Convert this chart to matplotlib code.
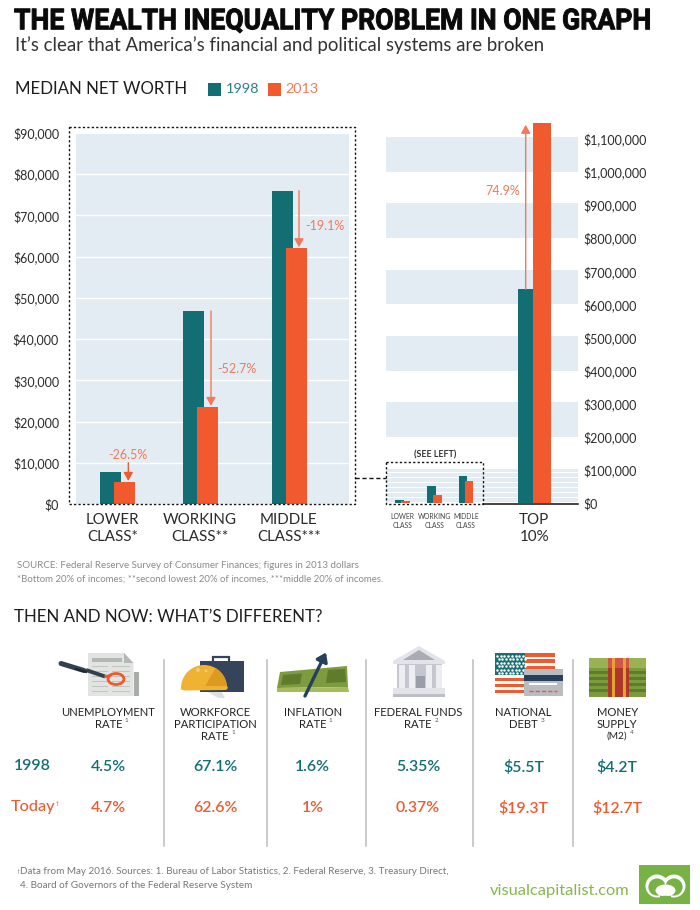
import matplotlib
matplotlib.use("Agg")
import matplotlib.pyplot as plt
from matplotlib.patches import Rectangle, Polygon, Ellipse, Wedge, Circle
from matplotlib.patheffects import AbstractPathEffect
from matplotlib.transforms import Affine2D

# ---------- data ----------
classes = ["LOWER\nCLASS*", "WORKING\nCLASS**", "MIDDLE\nCLASS***"]
worth_1998 = [7800, 46800, 76000]
worth_2013 = [5300, 23500, 62000]
changes = ["-26.5%", "-52.7%", "-19.1%"]

inset_labels = ["LOWER\nCLASS", "WORKING\nCLASS", "MIDDLE\nCLASS"]
inset_1998 = [10000, 52000, 83000]
inset_2013 = [6000, 25000, 67000]

top_label = "TOP\n10%"
top_1998 = 646000
top_2013 = 1148000
top_change = "74.9%"

left_ticks = list(range(0, 90001, 10000))
right_ticks = list(range(0, 1100001, 100000))

indicators = ["UNEMPLOYMENT\nRATE", "WORKFORCE\nPARTICIPATION\nRATE", "INFLATION\nRATE",
              "FEDERAL FUNDS\nRATE", "NATIONAL\nDEBT", "MONEY\nSUPPLY\n(M2)"]
notes = ["1", "1", "1", "2", "3", "4"]
then_vals = ["4.5%", "67.1%", "1.6%", "5.35%", "$5.5T", "$4.2T"]
now_vals = ["4.7%", "62.6%", "1%", "0.37%", "$19.3T", "$12.7T"]

# ---------- style ----------
TEAL = "#126E73"
ORANGE = "#F15A2E"
SOFT = "#F3795A"
BAND = "#E3ECF2"
INK = "#2B2B2B"
GREY = "#8A8A8A"
GREEN = "#77B244"
plt.rcParams["font.family"] = ["Lato", "DejaVu Sans"]

W, H = 700, 910
fig = plt.figure(figsize=(W / 100, H / 100), dpi=100, facecolor="white")


class Squeeze(AbstractPathEffect):
    """Condense a text horizontally, raise it and thicken its strokes a little."""

    def __init__(self, sx, sy, stroke):
        super().__init__()
        self.sx, self.sy, self.stroke = sx, sy, stroke

    def draw_path(self, renderer, gc, tpath, affine, rgbFace=None):
        gc0 = renderer.new_gc()
        gc0.copy_properties(gc)
        gc0.set_linewidth(self.stroke)
        gc0.set_foreground(rgbFace)
        renderer.draw_path(gc0, tpath, Affine2D().scale(self.sx, self.sy) + affine, rgbFace)
        gc0.restore()


def axes_px(x0, y_top, x1, y_bot):
    return fig.add_axes([x0 / W, 1 - y_bot / H, (x1 - x0) / W, (y_bot - y_top) / H])


# ---------- left chart ----------
ax = axes_px(76, 133, 349, 504)
ax.set_xlim(76, 349)
ax.set_ylim(0, 90000)
ax.set_facecolor(BAND)
for s in ax.spines.values():
    s.set_visible(False)
left_centres = [117, 200.5, 289.7]
bw = 21
off = 7
ax.bar([c - off for c in left_centres], worth_1998, bw, color=TEAL, zorder=3)
ax.bar([c + off for c in left_centres], worth_2013, bw, color=ORANGE, zorder=4)
ax.set_yticks(left_ticks, [f"${v:,}" for v in left_ticks], fontsize=9.0, color=INK)
ax.set_xticks([112.7, 200, 288.7], classes, fontsize=10.9, color=INK, linespacing=1.25)
ax.tick_params(axis="both", length=0)
ax.tick_params(axis="y", pad=12.2)
ax.tick_params(axis="x", pad=6.4)
ax.grid(axis="y", color="white", lw=1, zorder=1)
ax.set_axisbelow(True)
arrow_x = [128.3, 211, 299]
arrow_start = [10000, worth_1998[1], worth_1998[2]]
for x, s, e in zip(arrow_x, arrow_start, worth_2013):
    ax.annotate("", xy=(x, e + 300), xytext=(x, s),
                arrowprops=dict(arrowstyle="-|>,head_width=0.28,head_length=0.5",
                                color=SOFT if s > 20000 else ORANGE,
                                lw=1, shrinkA=0, shrinkB=0), zorder=6)
ax.text(128, 11900, changes[0], ha="center", va="center", color=SOFT, fontsize=9.0)
ax.text(236.5, 32700, changes[1], ha="center", va="center", color=SOFT, fontsize=9.0)
ax.text(325, 67400, changes[2], ha="center", va="center", color=SOFT, fontsize=9.0)

# ---------- right chart ----------
axr = axes_px(386, 105.6, 578, 503.3)
axr.set_xlim(386, 578)
axr.set_ylim(0, 1200000)
axr.patch.set_alpha(0)
for s in axr.spines.values():
    s.set_visible(False)
for lo in (200000, 400000, 600000, 800000, 1000000):
    axr.axhspan(lo, lo + 105000, color=BAND, lw=0, zorder=1)
for lo in range(0, 100000, 15000):
    axr.axhspan(lo + 3500, lo + 15000, color=BAND, lw=0, zorder=1)
inset_centres = [402.7, 434.5, 466]
axr.bar([c - 3 for c in inset_centres], inset_1998, 8.7, color=TEAL, zorder=3)
axr.bar([c + 3 for c in inset_centres], inset_2013, 8.7, color=ORANGE, zorder=4)
axr.bar(525.5, top_1998, 15, color=TEAL, zorder=3)
axr.bar(542.2, top_2013, 18.2, color=ORANGE, zorder=4)
axr.yaxis.tick_right()
axr.set_yticks(right_ticks, [f"${v:,}" for v in right_ticks], fontsize=9.0, color=INK)
axr.set_xticks(inset_centres + [534.3], inset_labels + [top_label])
axr.tick_params(axis="both", length=0)
axr.tick_params(axis="y", pad=3.6)
for i, lab in enumerate(axr.get_xticklabels()):
    if i < 3:
        lab.set_fontsize(4.9)
        lab.set_color("#444444")
        lab.set_linespacing(1.3)
    else:
        lab.set_fontsize(10.9)
        lab.set_color(INK)
        lab.set_linespacing(1.25)
for i, t in enumerate(axr.xaxis.get_major_ticks()):
    t.set_pad(7 if i < 3 else 7)
axr.annotate("", xy=(525.7, 1142000), xytext=(525.7, top_1998),
             arrowprops=dict(arrowstyle="-|>,head_width=0.28,head_length=0.5", color=SOFT, lw=1,
                             shrinkA=0, shrinkB=0), zorder=6)
axr.text(503, 943000, top_change, ha="center", va="center", color=SOFT, fontsize=9.0)

# ---------- overlay in pixels ----------
ov = fig.add_axes([0, 0, 1, 1], zorder=10)
ov.set_xlim(0, W)
ov.set_ylim(H, 0)
ov.axis("off")
ov.patch.set_alpha(0)


def T(x, y, s, size, color=INK, ha="left", va="center", weight="normal", **kw):
    return ov.text(x, y, s, fontsize=size, color=color, ha=ha, va=va, fontweight=weight, **kw)


def R(x0, y0, x1, y1, color, z=2, **kw):
    ov.add_patch(Rectangle((x0, y0), x1 - x0, y1 - y0, fc=color, ec="none", zorder=z, **kw))


title = T(14, 29.3, "THE WEALTH INEQUALITY PROBLEM IN ONE GRAPH", 20.2, "#0A0A0A", va="baseline", weight="bold",
          family=["Liberation Sans Narrow", "Roboto"])
title.set_path_effects([Squeeze(0.95, 1.03, 0.7)])
T(15, 45, "It\u2019s clear that America\u2019s financial and political systems are broken", 13.4, "#333333")
T(15, 89.5, "MEDIAN NET WORTH", 12.2, "#1E1E1E")
R(207.5, 83, 220.5, 96, TEAL)
T(226, 89, "1998", 10.4, "#2A8086")
R(268, 83, 281, 96, ORANGE)
T(285, 89, "2013", 10.4, SOFT)

dash = dict(color="#111111", lw=1, linestyle=(0, (1.6, 1.6)), zorder=6)
ov.plot([68.7, 355, 355, 68.7, 68.7], [126.7, 126.7, 504, 504, 126.7], **dash)
ov.plot([355, 386], [478.3, 478.3], color="#111111", lw=1, linestyle=(0, (3, 2)), zorder=6)
ov.plot([386, 483.3, 483.3, 386, 386], [462.3, 462.3, 503.5, 503.5, 462.3], **dash)
ov.plot([483.3, 578], [503.5, 503.5], color="#111111", lw=1.1, zorder=6)
T(435, 455, "(SEE LEFT)", 6.4, "#333333", ha="center", weight="bold")

T(17, 566, "SOURCE: Federal Reserve Survey of Consumer Finances; figures in 2013 dollars", 7.05, GREY)
T(17, 579, "*Bottom 20% of incomes; **second lowest 20% of incomes, ***middle 20% of incomes.", 6.9, GREY)
T(14, 617, "THEN AND NOW: WHAT\u2019S DIFFERENT?", 12.2, "#1E1E1E")

# dividers
for x in (164.3, 267.3, 366, 472.7, 573):
    ov.plot([x, x], [659.5, 846], color="#BDBDBD", lw=1.1)

# column text
centres = [108.3, 215, 312.7, 418, 523.7, 617.3]
renderer = fig.canvas.get_renderer()
for cx, name, n, a, b in zip(centres, indicators, notes, then_vals, now_vals):
    lines = name.split("\n")
    for i, l in enumerate(lines):
        size = 8.1 if l != "(M2)" else 7.2
        t = T(cx, 712 + 12 * i, l, size, "#222222", ha="center")
    right_edge = t.get_window_extent(renderer).x1
    T(right_edge + 2.5, 709 + 12 * (len(lines) - 1), n, 4.6, "#555555", ha="left")
    T(cx, 767, a, 11.4, TEAL, ha="center", weight="semibold")
    T(cx, 808.5, b, 11.4, ORANGE, ha="center", weight="semibold")
T(32, 766, "1998", 11.4, TEAL, ha="center", weight="semibold")
T(11, 807.5, "Today", 11.7, ORANGE, ha="left", weight="medium")
T(56, 803, "\u2020", 4.0, ORANGE, ha="left")

T(16.5, 871, "\u2020", 4.0, GREY, va="center")
T(20.5, 871.7, "Data from May 2016. Sources: 1. Bureau of Labor Statistics, 2. Federal Reserve, 3. Treasury Direct,", 7.15, "#777777")
T(20.5, 885, "4. Board of Governors of the Federal Reserve System", 7.15, "#777777")

# logo
T(490, 891.5, "visualcapitalist.com", 11.8, "#86B84B")
R(638.5, 864.5, 690, 904, GREEN)
for cx_ in (657, 674):
    ov.add_patch(Circle((cx_, 886), 11.5, fc="white", ec="none", zorder=3))
ov.add_patch(Polygon([(655, 875), (665.5, 878), (676, 875), (672, 884), (659, 884)], fc="white", ec="none", zorder=3))
ov.add_patch(Circle((657, 887), 8.6, fc=GREEN, ec="none", zorder=4))
ov.add_patch(Circle((674, 887), 8.6, fc=GREEN, ec="none", zorder=4))
R(660, 887, 671, 899, GREEN, z=4)
ov.add_patch(Ellipse((665.5, 890.5), 20, 12, fc="white", ec="none", zorder=5))
ov.add_patch(Ellipse((665.5, 897), 9, 2.5, fc=GREEN, ec="none", zorder=6))

# icon 1: newspaper and pen
R(134, 672, 138.5, 696, "#A9ACAB")
ov.add_patch(Polygon([(88, 653), (124, 653), (133.5, 663), (133.5, 696), (88, 696)], fc="#E2E4E2", ec="none", zorder=2))
ov.add_patch(Polygon([(124, 653), (133.5, 663), (124, 663)], fc="#B5B8B6", ec="none", zorder=3))
R(92, 658, 122, 661.5, "#B4B7B5", z=3)
for y in (666, 671, 676, 681, 686, 691):
    R(92, y, 108, y + 1.4, "#BFC6C1", z=3)
    R(112, y, 130, y + 1.4, "#BFC6C1", z=3)
ov.plot([61, 84], [663.5, 670.5], color="#33414F", lw=3.6, solid_capstyle="round", zorder=4)
ov.plot([86, 105], [670, 676.5], color="#33414F", lw=2.8, solid_capstyle="butt", zorder=4)
ov.plot([76, 86], [669, 672], color="#1F2833", lw=1.5, zorder=5)
ov.add_patch(Ellipse((116, 679), 16, 11, fc="none", ec="#EE5A2C", lw=2, zorder=4))
ov.plot([106, 110], [676.5, 675.5], color="#EE5A2C", lw=2, zorder=4)

# icon 2: hard hat and briefcase
R(200, 661, 244, 692, "#35445A")
ov.add_patch(Rectangle((213, 657), 16, 6, fc="none", ec="#35445A", lw=1.6, zorder=2))
ov.add_patch(Polygon([(208, 692), (222, 692), (225, 698), (218, 698)], fc="#DDE0E2", ec="none", zorder=2))
ov.add_patch(Wedge((204, 688), 23, 180, 360, fc="#F0B232", ec="none", zorder=3))
ov.add_patch(Wedge((204, 688), 23, 300, 360, fc="#DC9A22", ec="none", zorder=4))
ov.add_patch(Polygon([(180, 689), (186, 686), (227, 686), (228, 688), (226, 690), (184, 690.5)], fc="#F0B232", ec="none", zorder=5))
ov.add_patch(Circle((198, 670), 2, fc="#F6CE76", ec="none", zorder=5))
ov.add_patch(Circle((206, 671), 1.3, fc="#F6CE76", ec="none", zorder=5))

# icon 3: banknotes and arrow
ov.add_patch(Polygon([(280, 672), (347, 666), (348, 687), (277, 688)], fc="#7E9B3F", ec="none", zorder=2))
ov.add_patch(Polygon([(277, 688), (348, 687), (349, 692), (277, 692)], fc="#A5BB5E", ec="none", zorder=3))
ov.add_patch(Polygon([(283, 675), (302, 673.5), (300, 684), (281, 685)], fc="#5F7C2C", ec="none", zorder=3))
ov.add_patch(Polygon([(328, 670), (345, 669), (346, 682), (326, 683)], fc="#5F7C2C", ec="none", zorder=3))
ov.annotate("", xy=(326, 652.5), xytext=(305, 696),
            arrowprops=dict(arrowstyle="-|>,head_width=0.35,head_length=0.5", color="#24405C", lw=2.4,
                            shrinkA=0, shrinkB=0), zorder=5)

# icon 4: bank
ov.add_patch(Polygon([(419, 646), (445, 661), (445, 664), (393, 664), (393, 661)], fc="#E3E4EA", ec="none", zorder=2))
ov.add_patch(Polygon([(419, 650), (435, 660), (403, 660)], fc="#A9ACB5", ec="none", zorder=3))
R(397, 664, 442, 688, "#C5C7D0")
for x in (399, 409, 426, 436):
    R(x, 665, x + 5.5, 688, "#EDEEF2", z=3)
R(415.5, 676, 424.5, 688, "#9A9EA8", z=3)
R(393, 688, 445, 693.5, "#E3E4EA", z=3)
R(393, 693.5, 445, 697, "#BDBFC8", z=3)

# icon 5: flag and card
R(495, 653, 555, 694, "white")
for i in range(7):
    R(495, 653.3 + i * 6.15, 555, 653.3 + i * 6.15 + 3.2, "#F05A2E", z=3)
R(495, 653, 525, 675, "#1B6E74", z=4)
for r in range(6):
    for c in range(8):
        ov.plot(497 + c * 3.7 + (r % 2) * 1.6, 655.5 + r * 3.5, ".", color="white", ms=1.6, zorder=5)
R(524, 669, 563, 696, "#B9BCC0", z=5)
R(524, 675, 563, 680.5, "#24405C", z=6)
R(529, 683, 557, 684.8, "white", z=6)
ov.plot([529, 557], [690.5, 690.5], color="#F05A2E", lw=1, linestyle=(0, (3, 1.5)), zorder=6)

# icon 6: stack of money
R(589, 658, 646, 697, "#7C9A3E")
R(589, 658, 646, 668, "#9BB252", z=3)
for y in (671, 677, 683, 689):
    R(589, y, 646, y + 2.6, "#5E7D2C", z=3)
R(608, 658, 629, 697, "#AE372C", z=4)
R(608, 658, 629, 668, "#D2574A", z=4)
R(612, 658, 615, 697, "#E5A231", z=5)
R(623, 658, 626, 697, "#E5A231", z=5)

fig.savefig("out.png", dpi=100)
